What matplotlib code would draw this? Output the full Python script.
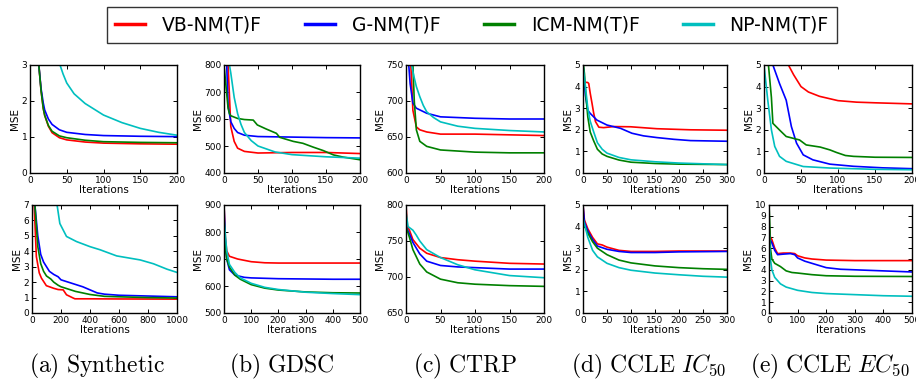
import matplotlib
matplotlib.use("Agg")
from matplotlib import pyplot as plt

# ---- data (x = iteration, y = MSE) ----
# (a) Synthetic, top
a1_vb_x = [8, 12, 15, 18, 20, 25, 30, 40, 50, 75, 100, 150, 200]
a1_vb_y = [4.0, 3.0, 2.3, 1.8, 1.6, 1.3, 1.12, 0.98, 0.92, 0.86, 0.83, 0.81, 0.80]
a1_g_x = [8, 12, 15, 18, 20, 25, 30, 40, 50, 75, 100, 150, 200]
a1_g_y = [4.0, 3.0, 2.35, 1.95, 1.75, 1.5, 1.35, 1.2, 1.13, 1.07, 1.04, 1.02, 1.01]
a1_icm_x = [8, 12, 15, 18, 20, 25, 30, 40, 50, 75, 100, 150, 200]
a1_icm_y = [4.0, 3.0, 2.3, 1.8, 1.6, 1.32, 1.16, 1.03, 0.98, 0.91, 0.87, 0.85, 0.84]
a1_np_x = [35, 40, 45, 50, 60, 75, 100, 125, 150, 175, 200]
a1_np_y = [3.5, 3.05, 2.75, 2.5, 2.2, 1.93, 1.61, 1.4, 1.24, 1.13, 1.05]

# (b) GDSC, top
b1_vb_x = [3, 6, 10, 15, 20, 30, 50, 100, 150, 200]
b1_vb_y = [900, 800, 572, 517, 492, 480, 474, 476, 476, 472]
b1_g_x = [2, 4, 6, 10, 15, 20, 30, 50, 100, 150, 200]
b1_g_y = [900, 800, 650, 590, 565, 550, 540, 535, 533, 531, 530]
b1_icm_x = [0, 3, 6, 8, 10, 20, 30, 43, 49, 62, 77, 82, 102, 116, 131, 146, 161, 175, 200]
b1_icm_y = [800, 720, 640, 620, 612, 602, 598, 596, 578, 563, 547, 532, 517, 510, 496, 483, 467, 459, 449]
b1_np_x = [8, 10, 15, 20, 25, 30, 40, 50, 75, 100, 150, 200]
b1_np_y = [800, 770, 680, 620, 580, 550, 520, 500, 478, 468, 460, 455]

# (c) CTRP, top
c1_vb_x = [5, 7, 10, 15, 20, 30, 50, 100, 150, 200]
c1_vb_y = [780, 750, 687, 664, 660, 657, 654, 654, 653, 652]
c1_g_x = [2, 4, 6, 10, 15, 30, 50, 100, 150, 200]
c1_g_y = [790, 750, 724, 697, 690, 683, 678, 676, 675, 675]
c1_icm_x = [8, 10, 12, 15, 20, 30, 50, 100, 150, 200]
c1_icm_y = [790, 750, 700, 660, 644, 637, 632, 629, 628, 628]
c1_np_x = [6, 8, 12, 15, 20, 25, 30, 40, 50, 75, 100, 150, 200]
c1_np_y = [770, 750, 732, 720, 706, 694, 685, 677, 671, 665, 662, 659, 657]

# (d) CCLE IC50, top
d1_vb_x = [0, 2, 5, 10, 12, 15, 19, 22, 26, 33, 43, 64, 99, 154, 224, 300]
d1_vb_y = [5.0, 4.3, 4.2, 4.19, 4.14, 3.7, 3.2, 2.8, 2.38, 2.12, 2.1, 2.15, 2.14, 2.05, 2.0, 1.98]
d1_g_x = [0, 5, 10, 15, 29, 50, 78, 102, 126, 154, 189, 224, 300]
d1_g_y = [5.0, 3.6, 2.9, 2.76, 2.45, 2.22, 2.07, 1.84, 1.72, 1.64, 1.56, 1.5, 1.47]
d1_icm_x = [0, 3, 6, 10, 15, 22, 30, 40, 50, 75, 100, 150, 200, 300]
d1_icm_y = [5.2, 4.6, 3.6, 2.6, 1.9, 1.5, 1.1, 0.88, 0.77, 0.6, 0.5, 0.44, 0.41, 0.39]
d1_np_x = [0, 5, 10, 15, 22, 30, 40, 50, 75, 100, 150, 200, 300]
d1_np_y = [5.0, 4.0, 3.0, 2.4, 1.92, 1.4, 1.1, 0.92, 0.72, 0.61, 0.52, 0.46, 0.39]

# (e) CCLE EC50, top
e1_vb_x = [28, 33, 40, 50, 60, 75, 100, 125, 150, 200]
e1_vb_y = [5.5, 5.0, 4.55, 4.0, 3.75, 3.55, 3.35, 3.28, 3.25, 3.2]
e1_g_x = [8, 12, 21, 30, 37, 44, 53, 66, 89, 121, 160, 200]
e1_g_y = [5.5, 5.0, 4.14, 3.37, 2.15, 1.38, 0.84, 0.61, 0.41, 0.31, 0.24, 0.2]
e1_icm_x = [4, 6, 10, 12, 21, 30, 48, 57, 76, 89, 98, 110, 121, 150, 200]
e1_icm_y = [5.5, 5.0, 3.5, 2.3, 1.99, 1.69, 1.53, 1.3, 1.2, 1.07, 0.95, 0.81, 0.77, 0.73, 0.72]
e1_np_x = [0, 5, 10, 14.5, 21, 30, 53, 89, 150, 200]
e1_np_y = [5.0, 3.4, 2.0, 1.23, 0.77, 0.54, 0.3, 0.23, 0.17, 0.15]

# (a) Synthetic, bottom
a2_vb_x = [10, 15, 30, 50, 65, 99, 150, 180, 215, 238, 260, 284, 296, 400, 600, 1000]
a2_vb_y = [9, 7, 3.66, 2.6, 2.26, 1.77, 1.6, 1.52, 1.5, 1.18, 1.08, 0.97, 0.92, 0.92, 0.91, 0.9]
a2_g_x = [10, 20, 40, 60, 80, 100, 120, 150, 180, 200, 250, 300, 350, 400, 450, 500, 600, 800, 1000]
a2_g_y = [9, 7, 5.0, 3.8, 3.3, 3.0, 2.7, 2.5, 2.35, 2.15, 2.0, 1.85, 1.7, 1.5, 1.3, 1.22, 1.15, 1.1, 1.05]
a2_icm_x = [10, 20, 40, 60, 80, 100, 130, 150, 180, 200, 250, 300, 400, 500, 600, 800, 1000]
a2_icm_y = [9, 7, 4.3, 3.2, 2.7, 2.4, 2.2, 2.0, 1.8, 1.7, 1.55, 1.4, 1.2, 1.08, 1.05, 1.0, 0.97]
a2_np_x = [160, 173, 192, 238, 307, 400, 469, 584, 746, 838, 931, 1000]
a2_np_y = [8, 7, 5.8, 4.96, 4.63, 4.3, 4.1, 3.7, 3.44, 3.19, 2.84, 2.63]

# (b) GDSC, bottom
b2_vb_x = [0, 5, 10, 20, 50, 100, 150, 200, 300, 400, 500]
b2_vb_y = [900, 780, 730, 710, 700, 690, 686, 685, 685, 685, 685]
b2_g_x = [0, 5, 10, 20, 40, 75, 100, 200, 300, 400, 500]
b2_g_y = [900, 760, 700, 660, 640, 632, 630, 627, 626, 625, 625]
b2_icm_x = [0, 5, 10, 20, 40, 60, 100, 150, 200, 300, 400, 500]
b2_icm_y = [850, 740, 700, 670, 640, 625, 605, 592, 585, 578, 575, 574]
b2_np_x = [0, 5, 10, 20, 40, 60, 100, 150, 200, 300, 400, 500]
b2_np_y = [850, 790, 730, 680, 650, 630, 610, 595, 587, 577, 572, 568]

# (c) CTRP, bottom
c2_vb_x = [0, 2, 5, 10, 20, 30, 50, 75, 100, 150, 200]
c2_vb_y = [800, 770, 765, 752, 740, 733, 727, 724, 722, 719, 718]
c2_g_x = [0, 5, 10, 20, 30, 50, 75, 100, 150, 200]
c2_g_y = [770, 760, 748, 732, 722, 716, 714, 713, 711, 711]
c2_icm_x = [0, 5, 10, 20, 30, 50, 75, 100, 150, 200]
c2_icm_y = [770, 755, 738, 718, 707, 697, 692, 690, 688, 687]
c2_np_x = [0, 3, 10, 15, 20, 30, 50, 75, 100, 150, 200]
c2_np_y = [790, 770, 765, 758, 750, 738, 727, 717, 710, 702, 699]

# (d) CCLE IC50, bottom
d2_vb_x = [0, 3, 10, 20, 30, 40, 50, 75, 100, 150, 200, 300]
d2_vb_y = [5.0, 4.3, 3.9, 3.5, 3.2, 3.15, 3.05, 2.9, 2.85, 2.85, 2.87, 2.87]
d2_g_x = [0, 3, 10, 20, 30, 50, 75, 100, 150, 200, 300]
d2_g_y = [5.0, 4.2, 3.8, 3.4, 3.1, 2.95, 2.85, 2.8, 2.8, 2.83, 2.85]
d2_icm_x = [0, 10, 20, 30, 50, 75, 100, 150, 200, 250, 300]
d2_icm_y = [4.2, 3.7, 3.3, 3.0, 2.7, 2.45, 2.32, 2.18, 2.1, 2.05, 2.02]
d2_np_x = [0, 10, 20, 30, 50, 75, 100, 150, 200, 250, 300]
d2_np_y = [4.4, 3.5, 2.9, 2.6, 2.3, 2.1, 1.98, 1.85, 1.77, 1.7, 1.66]

# (e) CCLE EC50, bottom
e2_vb_x = [0, 5, 10, 20, 30, 50, 75, 90, 100, 125, 150, 200, 300, 500]
e2_vb_y = [8, 7, 6.8, 6.0, 5.5, 5.55, 5.55, 5.5, 5.3, 5.1, 5.0, 4.9, 4.85, 4.85]
e2_g_x = [0, 10, 20, 30, 50, 75, 90, 100, 125, 150, 200, 250, 300, 400, 500]
e2_g_y = [7, 6.5, 5.8, 5.4, 5.45, 5.5, 5.4, 5.1, 4.8, 4.6, 4.2, 4.05, 4.0, 3.9, 3.8]
e2_icm_x = [0, 3, 5, 10, 20, 40, 60, 80, 100, 150, 200, 300, 500]
e2_icm_y = [10, 8, 6, 5.0, 4.6, 4.3, 3.9, 3.75, 3.7, 3.55, 3.45, 3.4, 3.38]
e2_np_x = [0, 5, 10, 20, 40, 60, 100, 150, 200, 300, 400, 500]
e2_np_y = [8, 5.0, 4.0, 3.3, 2.7, 2.4, 2.1, 1.9, 1.8, 1.7, 1.6, 1.55]

methods = ["VB-NM(T)F", "G-NM(T)F", "ICM-NM(T)F", "NP-NM(T)F"]
colors = ["r", "b", "g", "c"]

captions = [r"$\mathrm{(a)\ Synthetic}$", r"$\mathrm{(b)\ GDSC}$",
            r"$\mathrm{(c)\ CTRP}$", r"$\mathrm{(d)\ CCLE}\ IC_{50}$",
            r"$\mathrm{(e)\ CCLE}\ EC_{50}$"]

top_panels = [
    [(a1_vb_x, a1_vb_y), (a1_g_x, a1_g_y), (a1_icm_x, a1_icm_y), (a1_np_x, a1_np_y)],
    [(b1_vb_x, b1_vb_y), (b1_g_x, b1_g_y), (b1_icm_x, b1_icm_y), (b1_np_x, b1_np_y)],
    [(c1_vb_x, c1_vb_y), (c1_g_x, c1_g_y), (c1_icm_x, c1_icm_y), (c1_np_x, c1_np_y)],
    [(d1_vb_x, d1_vb_y), (d1_g_x, d1_g_y), (d1_icm_x, d1_icm_y), (d1_np_x, d1_np_y)],
    [(e1_vb_x, e1_vb_y), (e1_g_x, e1_g_y), (e1_icm_x, e1_icm_y), (e1_np_x, e1_np_y)],
]
bottom_panels = [
    [(a2_vb_x, a2_vb_y), (a2_g_x, a2_g_y), (a2_icm_x, a2_icm_y), (a2_np_x, a2_np_y)],
    [(b2_vb_x, b2_vb_y), (b2_g_x, b2_g_y), (b2_icm_x, b2_icm_y), (b2_np_x, b2_np_y)],
    [(c2_vb_x, c2_vb_y), (c2_g_x, c2_g_y), (c2_icm_x, c2_icm_y), (c2_np_x, c2_np_y)],
    [(d2_vb_x, d2_vb_y), (d2_g_x, d2_g_y), (d2_icm_x, d2_icm_y), (d2_np_x, d2_np_y)],
    [(e2_vb_x, e2_vb_y), (e2_g_x, e2_g_y), (e2_icm_x, e2_icm_y), (e2_np_x, e2_np_y)],
]

# axis ranges and ticks: (xmax, xstep, ymin, ymax, ystep)
top_limits = [(200, 50, 0, 3, 1), (200, 50, 400, 800, 100), (200, 50, 600, 750, 50),
              (300, 50, 0, 5, 1), (200, 50, 0, 5, 1)]
bottom_limits = [(1000, 200, 0, 7, 1), (500, 100, 500, 900, 100), (200, 50, 650, 800, 50),
                 (300, 50, 0, 5, 1), (500, 100, 0, 10, 1)]

W, H = 916, 379
top_cols = [(30, 177), (224, 360), (406, 544), (583, 727), (764, 912)]
bottom_cols = [(32, 177), (224, 360), (406, 544), (583, 727), (769, 912)]
caption_x = [97, 282, 465, 649, 830]


def draw_panel(fig, box, rows, series, limits):
    (x0, x1), (y0, y1) = box, rows
    ax = fig.add_axes([x0 / W, 1 - y1 / H, (x1 - x0) / W, (y1 - y0) / H])
    for (xs, ys), c, name in zip(series, colors, methods):
        ax.plot(xs, ys, color=c, lw=1.2, label=name)
    xmax, xstep, ymin, ymax, ystep = limits
    ax.set_xlim(0, xmax)
    ax.set_ylim(ymin, ymax)
    ax.set_xticks(range(0, xmax + 1, xstep))
    ax.set_yticks(range(ymin, ymax + 1, ystep))
    ax.tick_params(direction="in", top=True, right=True, length=3, width=0.7,
                   labelsize=6.5, pad=2)
    for s in ax.spines.values():
        s.set_linewidth(1.0)
    ax.set_xlabel("Iterations", fontsize=7.5, labelpad=0)
    ax.set_ylabel("MSE", fontsize=7.5, labelpad=1)
    return ax


def main():
    plt.rcParams["mathtext.fontset"] = "cm"
    fig = plt.figure(figsize=(W / 100, H / 100), dpi=100)

    for i in range(5):
        ax = draw_panel(fig, top_cols[i], (65, 173), top_panels[i], top_limits[i])
        draw_panel(fig, bottom_cols[i], (205, 313), bottom_panels[i], bottom_limits[i])
        fig.text(caption_x[i] / W, 1 - 372 / H, captions[i], fontsize=17,
                 ha="center", va="baseline")

    handles, labels = ax.get_legend_handles_labels()
    leg = fig.legend(handles, labels, loc="center", bbox_to_anchor=(472 / W, 1 - 25 / H),
                     ncol=4, fontsize=13.5, frameon=True, fancybox=False,
                     handlelength=1.6, handletextpad=0.9, columnspacing=2.3,
                     borderpad=0.45)
    leg.get_frame().set_edgecolor("black")
    leg.get_frame().set_linewidth(1.0)
    for line in leg.get_lines():
        line.set_linewidth(2.5)

    fig.savefig("out.png", dpi=100)


if __name__ == "__main__":
    main()
